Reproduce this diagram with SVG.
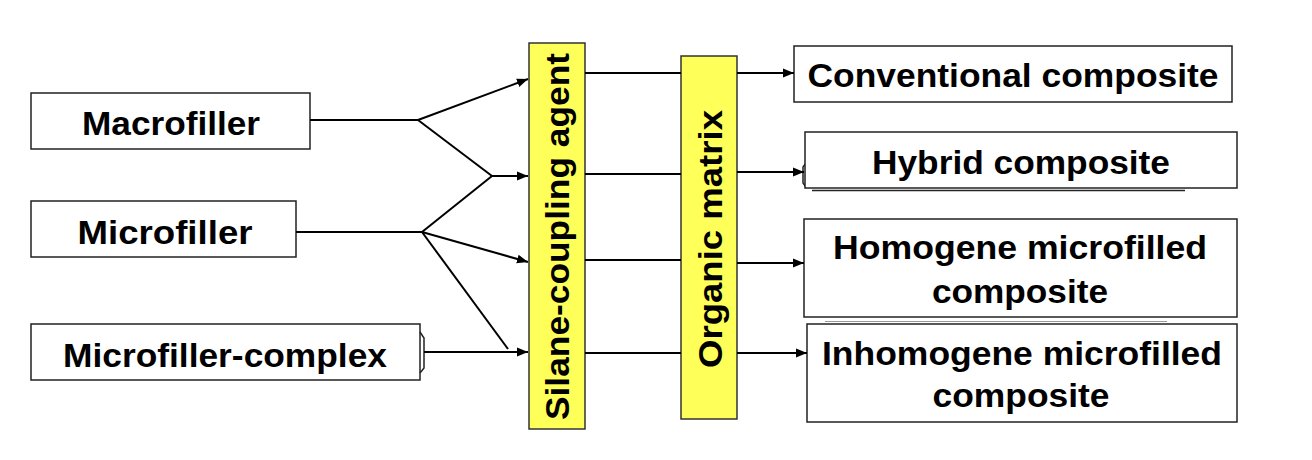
<svg xmlns="http://www.w3.org/2000/svg" width="1312" height="460" viewBox="0 0 1312 460">
<style>
.box{fill:#fff;stroke:#222;stroke-width:1.5}
.ybox{fill:#ffff59;stroke:#333;stroke-width:1.5}
.t{font-family:"Liberation Sans",Arial,sans-serif;font-weight:bold;font-size:33px;fill:#000;text-anchor:middle}
.c{fill:none;stroke:#000;stroke-width:2}
.a{fill:none;stroke:#000;stroke-width:2;marker-end:url(#ah)}
.thin{fill:none;stroke:#222;stroke-width:1.5}
</style>
<defs>
<marker id="ah" viewBox="0 0 10 10" refX="10" refY="5" markerWidth="5.5" markerHeight="5.5" orient="auto" markerUnits="strokeWidth">
<path d="M0,1 L10,5 L0,9 Z" fill="#000"/>
</marker>
</defs>
<rect width="1312" height="460" fill="#fff"/>
<g id="macrofiller">
<rect class="box" x="31" y="93" width="279" height="56"/>
<text class="t" x="171" y="135" textLength="178" lengthAdjust="spacingAndGlyphs">Macrofiller</text>
</g>
<g id="microfiller">
<rect class="box" x="31" y="201" width="265" height="56"/>
<text class="t" x="165" y="244" textLength="175" lengthAdjust="spacingAndGlyphs">Microfiller</text>
</g>
<g id="microfiller-complex">
<rect class="box" x="31" y="324" width="389" height="56"/>
<path class="thin" d="M420,332 L424,338 L424,368 L420,373"/>
<text class="t" x="225" y="367" textLength="324" lengthAdjust="spacingAndGlyphs">Microfiller-complex</text>
</g>
<g id="silane">
<rect class="ybox" x="529" y="43" width="56" height="386"/>
<text class="t" transform="translate(569,236.5) rotate(-90)" x="0" y="0" textLength="367" lengthAdjust="spacingAndGlyphs">Silane-coupling agent</text>
</g>
<g id="organic">
<rect class="ybox" x="681" y="56" width="56" height="363"/>
<text class="t" transform="translate(722,239) rotate(-90)" x="0" y="0" textLength="258" lengthAdjust="spacingAndGlyphs">Organic matrix</text>
</g>
<g id="conventional">
<rect class="box" x="794" y="46" width="438" height="56"/>
<text class="t" x="1013" y="87" textLength="411" lengthAdjust="spacingAndGlyphs">Conventional composite</text>
</g>
<g id="hybrid">
<line class="thin" x1="812" y1="190.5" x2="1185" y2="190.5"/>
<path class="thin" d="M806,163 L803,167 L803,183 L806,187"/>
<rect class="box" x="805" y="132" width="432" height="56"/>
<text class="t" x="1021" y="174" textLength="298" lengthAdjust="spacingAndGlyphs">Hybrid composite</text>
</g>
<g id="homogene">
<rect class="box" x="804" y="219" width="433" height="98"/>
<text class="t" x="1020" y="259" textLength="374" lengthAdjust="spacingAndGlyphs">Homogene microfilled</text>
<text class="t" x="1020" y="303" textLength="176" lengthAdjust="spacingAndGlyphs">composite</text>
</g>
<g id="inhomogene">
<line x1="825" y1="321.5" x2="1167" y2="321.5" stroke="#999" stroke-width="1"/>
<rect class="box" x="807" y="324" width="430" height="98"/>
<text class="t" x="1022" y="365" textLength="400" lengthAdjust="spacingAndGlyphs">Inhomogene microfilled</text>
<text class="t" x="1021" y="407" textLength="177" lengthAdjust="spacingAndGlyphs">composite</text>
</g>
<g id="connectors">
<path class="c" d="M310,120 L418,120"/>
<path class="a" d="M418,120 L528,79"/>
<path class="c" d="M418,120 L492,176"/>
<path class="a" d="M492,176 L528,176"/>
<path class="c" d="M296,232 L422,232"/>
<path class="c" d="M422,232 L492,176"/>
<path class="a" d="M422,232 L528,262"/>
<path class="c" d="M422,232 L508,349"/>
<path class="a" d="M424,352 L528,352"/>
<path class="c" d="M585,73 L681,73"/>
<path class="c" d="M585,174 L681,174"/>
<path class="c" d="M585,260 L681,260"/>
<path class="c" d="M585,353 L681,353"/>
<path class="a" d="M737,73 L794,73"/>
<path class="a" d="M737,172 L804,172"/>
<path class="a" d="M737,263 L804,263"/>
<path class="a" d="M737,353 L807,353"/>
</g>
</svg>
